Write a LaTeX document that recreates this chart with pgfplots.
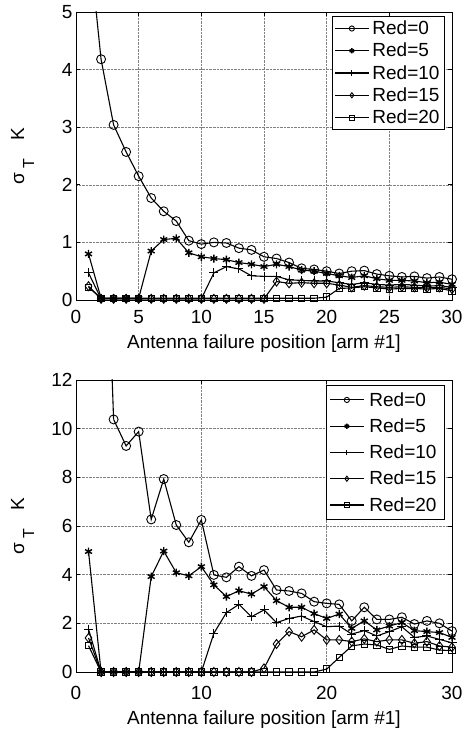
\documentclass[border=0pt]{standalone}
\usepackage{fontspec}
\setmainfont{Liberation Sans}
\usepackage{pgfplots}
\pgfplotsset{compat=1.18}

\newcommand{\ylab}{σ\hspace{4bp}\raisebox{-10bp}{\fontsize{16bp}{16bp}\selectfont T}\hspace{18bp}K}

\pgfplotsset{
  myax/.style={
    scale only axis, width=376bp, xmin=0, xmax=30,
    axis line style={line width=0.9bp},
    tick style={line width=0.7bp, black},
    major tick length=4bp,
    tick align=inside,
    grid=major,
    grid style={densely dotted, black!50, line width=0.5bp},
    /pgf/number format/assume math mode=true,
    tick label style={font=\fontsize{19bp}{22bp}\selectfont},
    every axis x label/.style={at={(axis description cs:0.5,0)}, anchor=center, font=\fontsize{19bp}{22bp}\selectfont},
    every axis y label/.style={at={(axis description cs:-0.142,0.5)}, rotate=90, anchor=center, font=\fontsize{19bp}{22bp}\selectfont},
    xlabel={Antenna failure position [arm \#1]},
    ylabel={\ylab},
    legend cell align=left,
    legend image code/.code={\draw[mark repeat=2,mark phase=2,mark size=2.6bp] plot coordinates {(0bp,0bp) (17bp,0bp) (34bp,0bp)};},
    every axis plot/.append style={black, line width=1.1bp},
  },
  m0/.style={mark=o, mark size=4.5bp, mark options={solid, line width=0.9bp}},
  m5/.style={mark=asterisk, mark size=4bp, mark options={solid, line width=1.4bp}},
  m10/.style={mark=+, mark size=4.5bp, mark options={solid, line width=1.0bp}},
  m15/.style={mark=diamond, mark size=4.5bp, mark options={solid, line width=0.9bp}},
  m20/.style={mark=square, mark size=3.2bp, mark options={solid, line width=0.9bp}},
}

\begin{document}
\begin{tikzpicture}
\path[use as bounding box] (0,0) rectangle (465bp,734bp);

% ---------------- top axis ----------------
\begin{axis}[myax,
  at={(76bp,434bp)}, anchor=south west, height=288bp,
  ymin=0, ymax=5, ytick={0,1,2,3,4,5},
  xtick={0,5,10,15,20,25,30},
  xticklabel style={anchor=center, yshift=-17bp},
  x label style={yshift=-44bp},
  legend style={at={(0.981,0.986)}, anchor=north east, draw=black, line width=0.7bp,
    fill=white, inner xsep=2bp, inner ysep=1bp,
    font=\fontsize{19bp}{22bp}\selectfont,
    nodes={inner xsep=3bp, inner ysep=3.5bp}},
]
\addplot[m0] coordinates {(2,4.18)(3,3.04)(4,2.57)(5,2.15)(6,1.77)(7,1.54)(8,1.37)(9,1.03)(10,0.97)(11,1.0)(12,0.99)(13,0.9)(14,0.87)(15,0.75)(16,0.72)(17,0.65)(18,0.55)(19,0.53)(20,0.5)(21,0.46)(22,0.5)(23,0.51)(24,0.45)(25,0.42)(26,0.4)(27,0.41)(28,0.38)(29,0.4)(30,0.36)};
\addlegendentry{Red=0}
\addplot[m5] coordinates {(1,0.8)(2,0.03)(3,0.03)(4,0.03)(5,0.03)(6,0.85)(7,1.05)(8,1.07)(9,0.82)(10,0.75)(11,0.72)(12,0.70)(13,0.65)(14,0.62)(15,0.58)(16,0.62)(17,0.58)(18,0.52)(19,0.50)(20,0.46)(21,0.42)(22,0.39)(23,0.42)(24,0.37)(25,0.34)(26,0.34)(27,0.33)(28,0.30)(29,0.31)(30,0.27)};
\addlegendentry{Red=5}
\addplot[m10] coordinates {(1,0.47)(2,0.02)(3,0.02)(4,0.02)(5,0.02)(6,0.02)(7,0.02)(8,0.02)(9,0.02)(10,0.02)(11,0.47)(12,0.58)(13,0.54)(14,0.42)(15,0.41)(16,0.41)(17,0.35)(18,0.34)(19,0.33)(20,0.33)(21,0.30)(22,0.27)(23,0.30)(24,0.27)(25,0.26)(26,0.27)(27,0.26)(28,0.24)(29,0.25)(30,0.22)};
\addlegendentry{Red=10}
\addplot[m15] coordinates {(1,0.24)(2,0.02)(3,0.02)(4,0.02)(5,0.02)(6,0.02)(7,0.02)(8,0.02)(9,0.02)(10,0.02)(11,0.02)(12,0.02)(13,0.02)(14,0.02)(15,0.02)(16,0.32)(17,0.29)(18,0.30)(19,0.29)(20,0.29)(21,0.26)(22,0.22)(23,0.25)(24,0.23)(25,0.22)(26,0.23)(27,0.22)(28,0.21)(29,0.22)(30,0.19)};
\addlegendentry{Red=15}
\addplot[m20] coordinates {(1,0.22)(2,0.03)(3,0.03)(4,0.03)(5,0.03)(6,0.03)(7,0.03)(8,0.03)(9,0.03)(10,0.03)(11,0.03)(12,0.03)(13,0.03)(14,0.03)(15,0.03)(16,0.03)(17,0.03)(18,0.03)(19,0.03)(20,0.05)(21,0.20)(22,0.21)(23,0.23)(24,0.21)(25,0.19)(26,0.20)(27,0.20)(28,0.19)(29,0.20)(30,0.16)};
\addlegendentry{Red=20}
\addplot[forget plot, no marks] coordinates {(1,6.3)(2,4.18)};
\end{axis}

% ---------------- bottom axis ----------------
\begin{axis}[myax,
  at={(76bp,62bp)}, anchor=south west, height=292bp,
  ymin=0, ymax=12, ytick={0,2,4,6,8,10,12},
  xtick={0,10,20,30},
  xticklabel style={anchor=center, yshift=-21bp},
  x label style={yshift=-48bp},
  legend style={at={(0.981,0.983)}, anchor=north east, draw=black, line width=0.7bp,
    fill=white, inner xsep=3bp, inner ysep=1.5bp,
    font=\fontsize{19bp}{22bp}\selectfont,
    nodes={inner xsep=5bp, inner ysep=5.5bp}},
]
\addplot[m0] coordinates {(3,10.38)(4,9.29)(5,9.88)(6,6.27)(7,7.93)(8,6.04)(9,5.33)(10,6.25)(11,3.99)(12,3.89)(13,4.33)(14,3.95)(15,4.19)(16,3.37)(17,3.33)(18,3.23)(19,2.89)(20,2.82)(21,2.78)(22,2.1)(23,2.66)(24,2.16)(25,2.16)(26,2.25)(27,1.97)(28,2.1)(29,2.0)(30,1.68)};
\addlegendentry{Red=0}
\addplot[m5] coordinates {(1,4.95)(2,0)(3,0)(4,0)(5,0)(6,3.92)(7,4.97)(8,4.08)(9,3.95)(10,4.33)(11,3.58)(12,3.1)(13,3.34)(14,3.2)(15,3.51)(16,2.93)(17,2.66)(18,2.66)(19,2.4)(20,2.2)(21,2.38)(22,1.79)(23,2.1)(24,1.73)(25,1.89)(26,2.03)(27,1.7)(28,1.66)(29,1.62)(30,1.42)};
\addlegendentry{Red=5}
\addplot[m10] coordinates {(1,1.76)(2,0)(3,0)(4,0)(5,0)(6,0)(7,0)(8,0)(9,0)(10,0)(11,1.59)(12,2.44)(13,2.78)(14,2.27)(15,2.55)(16,2.03)(17,2.2)(18,2.3)(19,2.07)(20,1.86)(21,1.89)(22,1.56)(23,1.7)(24,1.48)(25,1.66)(26,1.86)(27,1.42)(28,1.48)(29,1.34)(30,1.2)};
\addlegendentry{Red=10}
\addplot[m15] coordinates {(1,1.4)(2,0)(3,0)(4,0)(5,0)(6,0)(7,0)(8,0)(9,0)(10,0)(11,0)(12,0)(13,0)(14,0)(15,0.15)(16,1.15)(17,1.66)(18,1.45)(19,1.73)(20,1.32)(21,1.32)(22,1.25)(23,1.36)(24,1.25)(25,1.32)(26,1.32)(27,1.18)(28,1.25)(29,1.07)(30,1.02)};
\addlegendentry{Red=15}
\addplot[m20] coordinates {(1,1.08)(2,0)(3,0)(4,0)(5,0)(6,0)(7,0)(8,0)(9,0)(10,0)(11,0)(12,0)(13,0)(14,0)(15,0)(16,0)(17,0)(18,0)(19,0)(20,0.12)(21,0.6)(22,1.07)(23,1.15)(24,1.11)(25,0.93)(26,1.07)(27,1.02)(28,1.02)(29,0.9)(30,0.88)};
\addlegendentry{Red=20}
\addplot[forget plot, no marks] coordinates {(2,24.9)(3,10.38)};
\end{axis}
\end{tikzpicture}
\end{document}
